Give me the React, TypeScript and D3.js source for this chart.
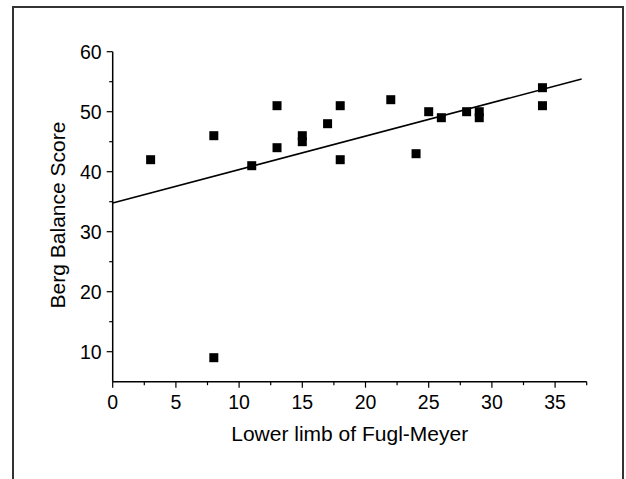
import * as d3 from "d3";
import React from "react";

// Lower limb Fugl-Meyer vs Berg Balance Score
const fuglMeyer = [3, 8, 8, 11, 13, 13, 15, 15, 17, 18, 18, 22, 24, 25, 26, 28, 29, 29, 34, 34];
const bergScore = [42, 46, 9, 41, 51, 44, 46, 45, 48, 51, 42, 52, 43, 50, 49, 50, 50, 49, 54, 51];
const xTicks = [0, 5, 10, 15, 20, 25, 30, 35];
const yTicks = [10, 20, 30, 40, 50, 60];

function linearFit(xs: number[], ys: number[]) {
  const mx = d3.mean(xs) as number;
  const my = d3.mean(ys) as number;
  let sxy = 0;
  let sxx = 0;
  xs.forEach((x, i) => {
    sxy += (x - mx) * (ys[i] - my);
    sxx += (x - mx) * (x - mx);
  });
  const slope = sxy / sxx;
  return { slope, intercept: my - slope * mx };
}

const ScatterChart = () => {
  const ref = React.useRef<SVGSVGElement>(null);
  React.useEffect(() => {
    const width = 626,
      height = 479;
    const svg = d3.select(ref.current).attr("width", width).attr("height", height);
    svg.selectAll("*").remove();

    const font = "Liberation Sans, Arial, Helvetica, sans-serif";

    // outer frame (no bottom edge visible)
    svg
      .append("path")
      .attr("d", `M13,${height + 2}V7H623V${height + 2}`)
      .attr("fill", "none")
      .attr("stroke", "#333")
      .attr("stroke-width", 2);

    const xScale = d3.scaleLinear().domain([0, 37.5]).range([112.7, 586.7]);
    const yScale = d3.scaleLinear().domain([5, 60]).range([381.7, 51.7]);

    const data = fuglMeyer.map((x, i) => ({ x, y: bergScore[i] }));

    // x axis
    const xg = svg.append("g").attr("transform", "translate(0,381.7)");
    xg.append("line")
      .attr("x1", xScale(0))
      .attr("x2", xScale(37.5))
      .attr("stroke", "#000")
      .attr("stroke-width", 1.5);
    xg.selectAll("line.minor")
      .data(d3.range(0, 37.6, 2.5))
      .enter()
      .append("line")
      .attr("class", "minor")
      .attr("x1", (d) => xScale(d))
      .attr("x2", (d) => xScale(d))
      .attr("y1", 0)
      .attr("y2", (d) => (d % 5 === 0 ? 6 : 3.5))
      .attr("stroke", "#000")
      .attr("stroke-width", 1.2);
    xg.selectAll("text")
      .data(xTicks)
      .enter()
      .append("text")
      .attr("x", (d) => xScale(d))
      .attr("y", 27.5)
      .attr("text-anchor", "middle")
      .style("font-family", font)
      .style("font-size", "19.5px")
      .text((d) => d);

    // y axis
    const yg = svg.append("g").attr("transform", "translate(112.7,0)");
    yg.append("line")
      .attr("y1", yScale(5))
      .attr("y2", yScale(60))
      .attr("stroke", "#000")
      .attr("stroke-width", 1.5);
    yg.selectAll("line.minor")
      .data(d3.range(10, 60.1, 5))
      .enter()
      .append("line")
      .attr("class", "minor")
      .attr("y1", (d) => yScale(d))
      .attr("y2", (d) => yScale(d))
      .attr("x1", 0)
      .attr("x2", (d) => (d % 10 === 0 ? -6 : -3.5))
      .attr("stroke", "#000")
      .attr("stroke-width", 1.2);
    yg.selectAll("text")
      .data(yTicks)
      .enter()
      .append("text")
      .attr("x", -11)
      .attr("y", (d) => yScale(d) + 7)
      .attr("text-anchor", "end")
      .style("font-family", font)
      .style("font-size", "19.5px")
      .text((d) => d);

    // regression line
    const fit = linearFit(fuglMeyer, bergScore);
    const lineGen = d3
      .line<number>()
      .x((d) => xScale(d))
      .y((d) => yScale(fit.intercept + fit.slope * d));
    svg
      .append("path")
      .attr("d", lineGen([0, 37.1]))
      .attr("fill", "none")
      .attr("stroke", "#000")
      .attr("stroke-width", 1.6);

    // points
    const size = 9;
    svg
      .selectAll("rect.pt")
      .data(data)
      .enter()
      .append("rect")
      .attr("class", "pt")
      .attr("x", (d) => xScale(d.x) - size / 2)
      .attr("y", (d) => yScale(d.y) - size / 2)
      .attr("width", size)
      .attr("height", size)
      .attr("fill", "#000");

    // axis labels
    svg
      .append("text")
      .attr("x", (xScale(0) + xScale(37.5)) / 2)
      .attr("y", 441)
      .attr("text-anchor", "middle")
      .style("font-family", font)
      .style("font-size", "21px")
      .text("Lower limb of Fugl-Meyer");

    svg
      .append("text")
      .attr("transform", "translate(65,215) rotate(-90)")
      .attr("text-anchor", "middle")
      .style("font-family", font)
      .style("font-size", "21px")
      .text("Berg Balance Score");
  }, []);

  return <svg ref={ref} style={{ position: "absolute", left: 0, top: 0 }}></svg>;
};

export default function App() {
  return <ScatterChart />;
}
